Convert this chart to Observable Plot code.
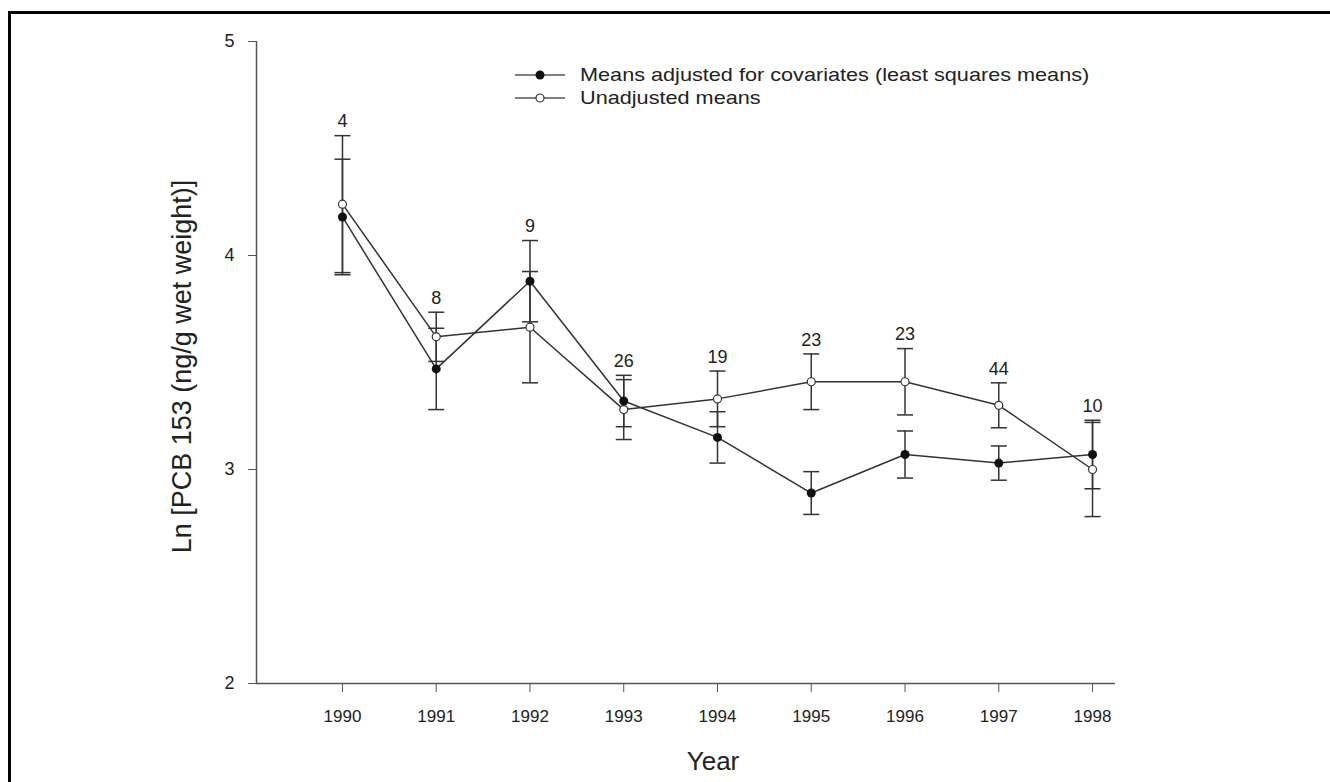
<!DOCTYPE html>
<html>
<head>
<meta charset="utf-8">
<script src="https://cdn.jsdelivr.net/npm/d3@7"></script>
<script src="https://cdn.jsdelivr.net/npm/@observablehq/plot@0.6"></script>
<style>
  html, body { margin: 0; padding: 0; background: #fff; }
  body { width: 1330px; height: 782px; position: relative; overflow: hidden; font-family: "Liberation Sans", Arial, sans-serif; }
  #frame { position: absolute; left: 8px; top: 11px; width: 1400px; height: 900px; border-top: 3px solid #000; border-left: 3px solid #000; box-sizing: border-box; }
  #chart { position: absolute; left: 0; top: 0; }
  #legend { position: absolute; left: 514px; top: 63px; color: #222; font-size: 19px; line-height: 22px; }
  .row { display: flex; align-items: center; height: 23px; }
  .row svg { margin-right: 14px; }
  .row span { display: inline-block; transform: scaleX(1.14); transform-origin: left center; white-space: nowrap; }
</style>
</head>
<body>
<div id="frame"></div>
<div id="chart"></div>
<div id="legend">
  <div class="row"><svg width="52" height="12"><line x1="1" y1="6" x2="51" y2="6" stroke="#555" stroke-width="1.5"/><circle cx="26" cy="6" r="4.5" fill="#111"/></svg><span>Means adjusted for covariates (least squares means)</span></div>
  <div class="row"><svg width="52" height="12"><line x1="1" y1="6" x2="51" y2="6" stroke="#555" stroke-width="1.5"/><circle cx="26" cy="6" r="4" fill="#fff" stroke="#333" stroke-width="1.2"/></svg><span>Unadjusted means</span></div>
</div>
<script>
// ---- data ----
const years = [1990, 1991, 1992, 1993, 1994, 1995, 1996, 1997, 1998];
const adjustedMean = [4.18, 3.47, 3.88, 3.32, 3.15, 2.89, 3.07, 3.03, 3.07];
const adjustedErr  = [0.27, 0.19, 0.19, 0.12, 0.12, 0.10, 0.11, 0.08, 0.16];
const unadjustedMean = [4.24, 3.62, 3.665, 3.28, 3.33, 3.41, 3.41, 3.30, 3.00];
const unadjustedErr  = [0.32, 0.115, 0.26, 0.14, 0.13, 0.13, 0.155, 0.105, 0.22];
const sampleSizes = [4, 8, 9, 26, 19, 23, 23, 44, 10];
const yTicks = [2, 3, 4, 5];
const xLabel = "Year";
const yLabel = "Ln [PCB 153 (ng/g wet weight)]";

// ---- tables built from the arrays ----
const adjusted = years.map((year, i) => ({year, mean: adjustedMean[i], lo: adjustedMean[i] - adjustedErr[i], hi: adjustedMean[i] + adjustedErr[i]}));
const unadjusted = years.map((year, i) => ({year, mean: unadjustedMean[i], lo: unadjustedMean[i] - unadjustedErr[i], hi: unadjustedMean[i] + unadjustedErr[i]}));
const both = adjusted.concat(unadjusted);
const labels = years.map((year, i) => ({year, n: sampleSizes[i], top: Math.max(adjusted[i].hi, unadjusted[i].hi)}));

const capSymbol = {
  draw(ctx, size) {
    const r = Math.sqrt(size / Math.PI);
    ctx.moveTo(-r, 0);
    ctx.lineTo(r, 0);
  }
};

const lineColor = "#333";

const plot = Plot.plot({
  width: 1330,
  height: 782,
  marginLeft: 256,
  marginRight: 215,
  marginTop: 41,
  marginBottom: 99,
  style: {background: "transparent", color: "#222", fontSize: "17px", fontFamily: "'Liberation Sans', Arial, sans-serif"},
  x: {domain: [1989.083, 1998.245]},
  y: {domain: [2, 5]},
  marks: [
    Plot.ruleX([1989.083], {stroke: "#555", strokeWidth: 1.5}),
    Plot.ruleY([2], {stroke: "#555", strokeWidth: 1.5}),
    Plot.axisY({ticks: yTicks, tickFormat: d => String(d), tickSize: 8, tickPadding: 14, fontSize: 18, label: null, stroke: "#555"}),
    Plot.axisX({ticks: years, tickFormat: d => String(d), tickSize: 9, tickPadding: 17, fontSize: 17, label: null, stroke: "#555"}),
    Plot.text([yLabel], {frameAnchor: "left", textAnchor: "middle", text: d => d, rotate: -90, dx: -74, dy: 4, fontSize: 27, fill: "#222"}),
    Plot.text([xLabel], {frameAnchor: "bottom", textAnchor: "middle", text: d => d, dx: 27, dy: 86, fontSize: 26, fill: "#222"}),
    Plot.line(unadjusted, {x: "year", y: "mean", stroke: lineColor, strokeWidth: 1.5}),
    Plot.line(adjusted, {x: "year", y: "mean", stroke: lineColor, strokeWidth: 1.5}),
    Plot.ruleX(both, {x: "year", y1: "lo", y2: "hi", stroke: lineColor, strokeWidth: 1.5}),
    Plot.dot(both, {x: "year", y: "hi", symbol: capSymbol, r: 8, fill: "none", stroke: lineColor, strokeWidth: 1.5}),
    Plot.dot(both, {x: "year", y: "lo", symbol: capSymbol, r: 8, fill: "none", stroke: lineColor, strokeWidth: 1.5}),
    Plot.dot(unadjusted, {x: "year", y: "mean", r: 4, fill: "#fff", stroke: lineColor, strokeWidth: 1.2}),
    Plot.dot(adjusted, {x: "year", y: "mean", r: 4.5, fill: "#111", stroke: "none"}),
    Plot.text(labels, {x: "year", y: "top", text: d => String(d.n), dy: -14, fontSize: 18, fill: "#222"})
  ]
});
document.getElementById("chart").appendChild(plot);
</script>
</body>
</html>
